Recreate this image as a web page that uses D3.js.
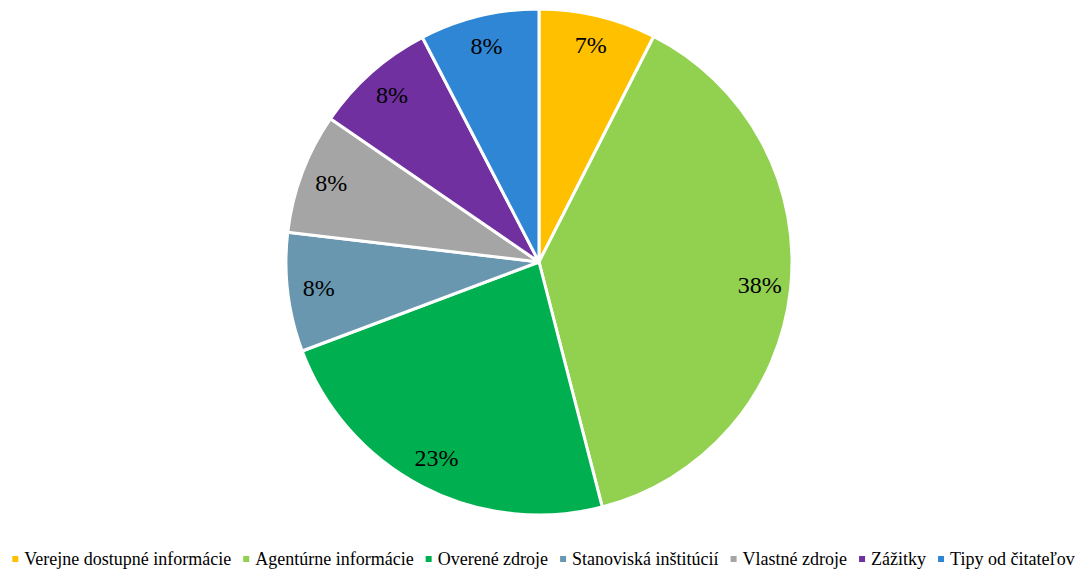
<!DOCTYPE html>
<html>
<head>
<meta charset="utf-8">
<script src="https://cdn.jsdelivr.net/npm/d3@7"></script>
<style>
  html, body { margin: 0; padding: 0; background: #fff; }
  svg { display: block; }
</style>
</head>
<body>
<svg id="chart" width="1087" height="573"></svg>
<script>
const categories = [
  "Verejne dostupné informácie",
  "Agentúrne informácie",
  "Overené zdroje",
  "Stanoviská inštitúcií",
  "Vlastné zdroje",
  "Zážitky",
  "Tipy od čitateľov"
];
const values = [7.49, 38.49, 23.3, 7.6, 7.7, 7.8, 7.62];
const colors = ["#FFC000", "#92D050", "#00B050", "#6997B0", "#A5A5A5", "#7030A0", "#2E86D4"];

const FONT = '"Liberation Serif"';
const svg = d3.select("#chart");
const W = 1087;
const cx = 539, cy = 262, R = 253;

const data = categories.map((c, i) => ({ name: c, value: values[i], color: colors[i] }));
const total = d3.sum(values);

const pie = d3.pie().value(d => d.value).sort(null);
const arc = d3.arc().innerRadius(0).outerRadius(R);
const labelArc = d3.arc().innerRadius(222).outerRadius(222);

const g = svg.append("g").attr("transform", `translate(${cx},${cy})`);
const arcs = pie(data);

g.selectAll("path.slice")
  .data(arcs)
  .join("path")
  .attr("class", "slice")
  .attr("d", arc)
  .attr("fill", d => d.data.color)
  .attr("stroke", "#fff")
  .attr("stroke-width", 3)
  .attr("stroke-linejoin", "round");

// percentage labels, placed near the rim at each slice's mid-angle
g.selectAll("text.pct")
  .data(arcs)
  .join("text")
  .attr("class", "pct")
  .attr("x", d => labelArc.centroid(d)[0])
  .attr("y", d => labelArc.centroid(d)[1])
  .attr("dy", "0.3em")
  .attr("text-anchor", "middle")
  .style("font-family", FONT)
  .style("font-size", "24px")
  .attr("fill", "#000")
  .text(d => Math.round(d.data.value / total * 100) + "%");

// legend along the bottom
const legend = svg.append("g").attr("class", "legend");
const items = legend.selectAll("g.item")
  .data(data)
  .join("g")
  .attr("class", "item");

items.append("rect")
  .attr("width", 6).attr("height", 6)
  .attr("y", -9)
  .attr("fill", d => d.color);

items.append("text")
  .attr("x", 12)
  .style("font-family", FONT)
  .style("font-size", "18px")
  .attr("fill", "#000")
  .text(d => d.name);

const gap = 12;
let widths = [];
items.each(function() {
  widths.push(12 + d3.select(this).select("text").node().getComputedTextLength());
});
const totalW = d3.sum(widths) + gap * (widths.length - 1);
let x = (W - totalW) / 2;
items.each(function(d, i) {
  d3.select(this).attr("transform", `translate(${x},565)`);
  x += widths[i] + gap;
});
</script>
</body>
</html>
